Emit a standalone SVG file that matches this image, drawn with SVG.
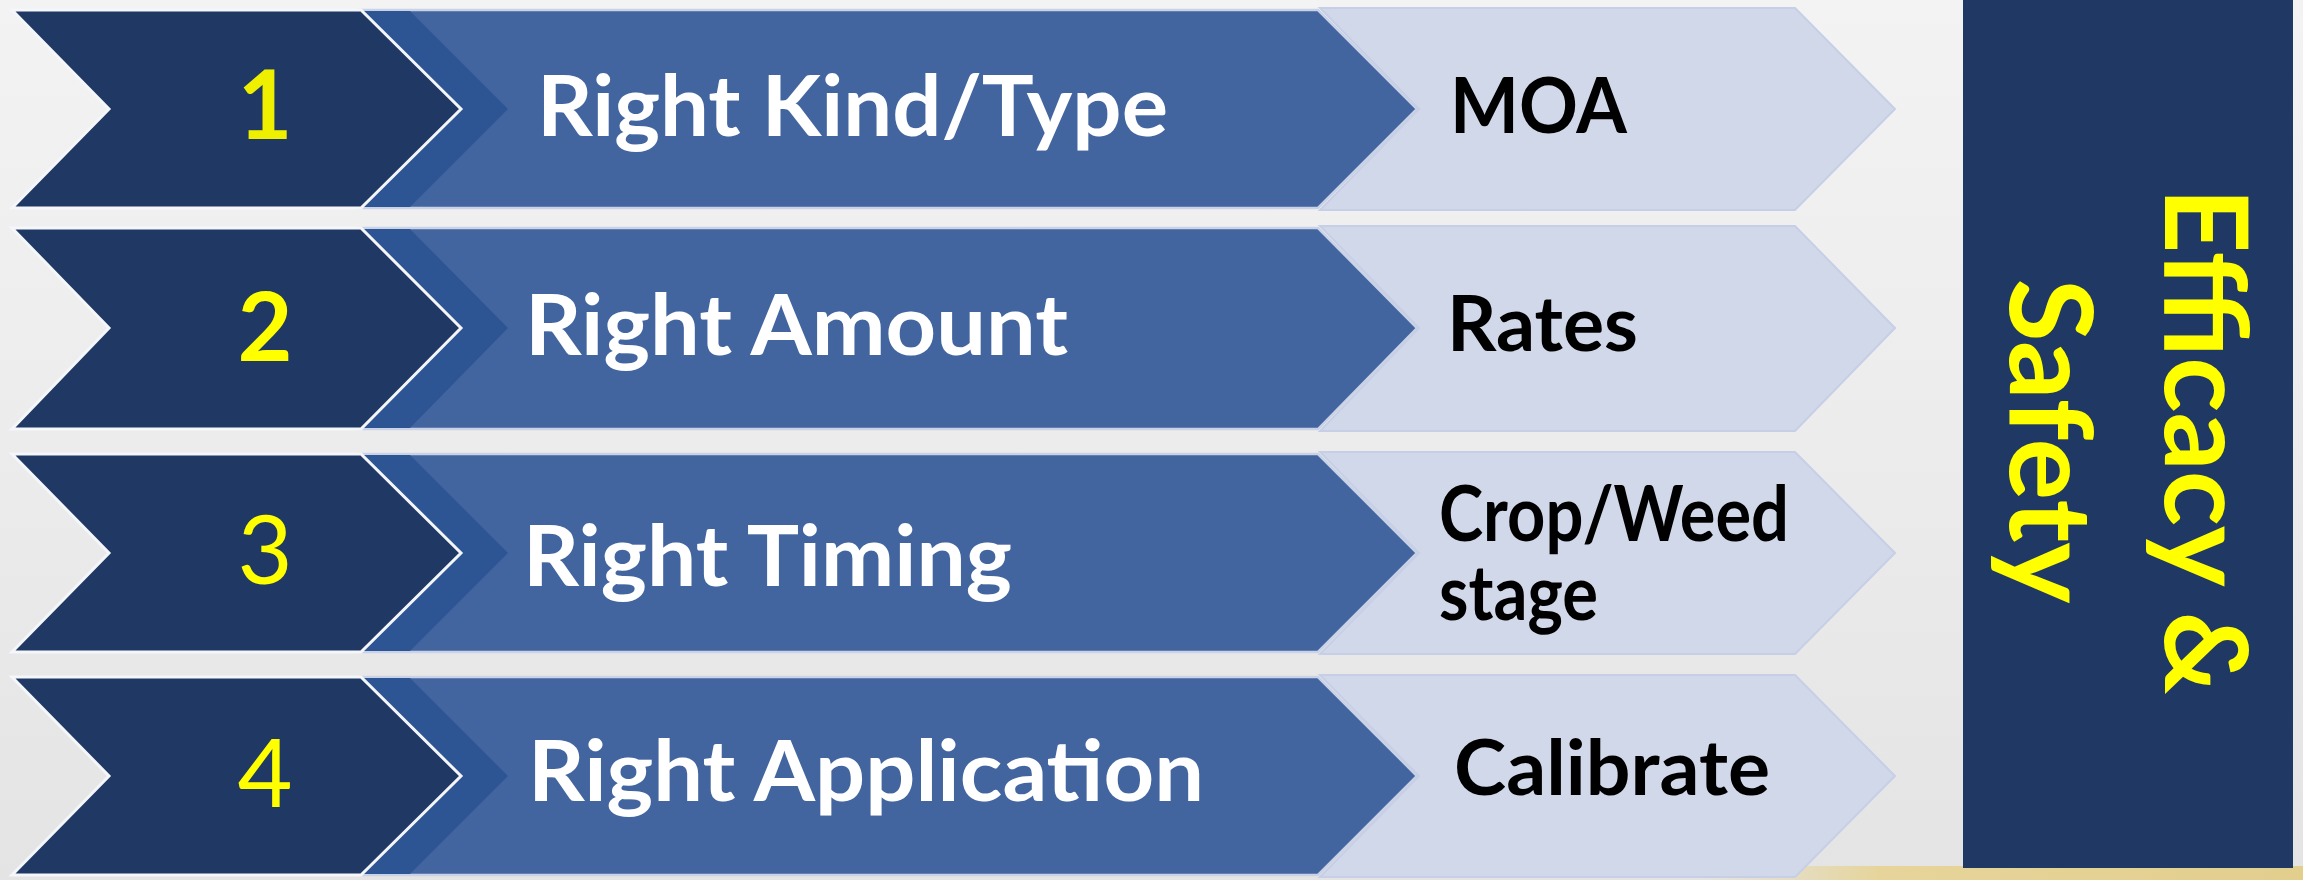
<svg xmlns="http://www.w3.org/2000/svg" width="2303" height="880" viewBox="0 0 2303 880">
<defs>
<linearGradient id="bg" x1="0" y1="0" x2="0" y2="1">
<stop offset="0" stop-color="#F3F3F3"/>
<stop offset="0.5" stop-color="#ECECEC"/>
<stop offset="1" stop-color="#E4E4E4"/>
</linearGradient>
<linearGradient id="tan" x1="0" y1="0" x2="1" y2="0">
<stop offset="0" stop-color="#E6D8A6" stop-opacity="0"/>
<stop offset="0.3" stop-color="#E6D49A"/>
<stop offset="1" stop-color="#E2CF8E"/>
</linearGradient>
<style>
.dark{fill:#203864;stroke:#F4F6FA;stroke-width:3;stroke-linejoin:miter}
.mid{fill:#4265A0;stroke:#C9D2E6;stroke-width:2.5}
.band{fill:#2E5593}
.light{fill:#D1D8EA;stroke:#C6CFE6;stroke-width:2}
.num{font-family:Lato,"Open Sans",sans-serif;font-size:95px;fill:#FFFF00;text-anchor:middle}
.lbl{font-family:Lato,"Open Sans",sans-serif;font-weight:bold;font-size:84px;fill:#FFFFFF}
.sub{font-family:Lato,"Open Sans",sans-serif;font-weight:bold;font-size:76px;fill:#000000}
.side{font-family:Lato,"Open Sans",sans-serif;font-weight:bold;font-size:114px;fill:#FFFF00;text-anchor:middle}
</style>
</defs>
<rect x="0" y="0" width="2303" height="880" fill="url(#bg)"/>
<rect x="1700" y="866" width="603" height="14" fill="url(#tan)"/>

<g id="row1">
<polygon class="mid" points="361,10 1318,10 1417,109 1318,208 361,208 461,109"/>
<polygon class="band" points="361,11 410,11 508,109 410,207 361,207 461,109"/>
<polygon class="light" points="1320,8 1795,8 1895,109 1795,210 1320,210 1419,109"/>
<polygon class="dark" points="12,10 361,10 461,109 361,208 12,208 109,109"/>
<text class="num" x="265" y="139" font-weight="bold" style="fill:#EEF000">1</text>
<text class="lbl" x="537" y="136" textLength="631" lengthAdjust="spacingAndGlyphs">Right Kind/Type</text>
<text class="sub" x="1450" y="133" textLength="177" lengthAdjust="spacingAndGlyphs">MOA</text>
</g>

<g id="row2">
<polygon class="mid" points="361,228 1318,228 1417,328 1318,429 361,429 461,328"/>
<polygon class="band" points="361,229 410,229 508,328 410,428 361,428 461,328"/>
<polygon class="light" points="1320,226 1795,226 1895,328 1795,431 1320,431 1419,328"/>
<polygon class="dark" points="12,228 361,228 461,328 361,429 12,429 109,328"/>
<text class="num" x="265" y="361" font-weight="bold">2</text>
<text class="lbl" x="525" y="355" textLength="543" lengthAdjust="spacingAndGlyphs">Right Amount</text>
<text class="sub" x="1447" y="351" textLength="191" lengthAdjust="spacingAndGlyphs">Rates</text>
</g>

<g id="row3">
<polygon class="mid" points="361,454 1318,454 1417,553 1318,652 361,652 461,553"/>
<polygon class="band" points="361,455 410,455 508,553 410,651 361,651 461,553"/>
<polygon class="light" points="1320,452 1795,452 1895,553 1795,654 1320,654 1419,553"/>
<polygon class="dark" points="12,454 361,454 461,553 361,652 12,652 109,553"/>
<text class="num" x="265" y="584">3</text>
<text class="lbl" x="523" y="586" textLength="489" lengthAdjust="spacingAndGlyphs">Right Timing</text>
<text class="sub"><tspan x="1439" y="541" textLength="350" lengthAdjust="spacingAndGlyphs">Crop/Weed</tspan><tspan x="1439" y="620" textLength="159" lengthAdjust="spacingAndGlyphs">stage</tspan></text>
</g>

<g id="row4">
<polygon class="mid" points="361,677 1318,677 1417,776 1318,875 361,875 461,776"/>
<polygon class="band" points="361,678 410,678 508,776 410,874 361,874 461,776"/>
<polygon class="light" points="1320,675 1795,675 1895,776 1795,877 1320,877 1419,776"/>
<polygon class="dark" points="12,677 361,677 461,776 361,875 12,875 109,776"/>
<text class="num" x="265" y="807">4</text>
<text class="lbl" x="528" y="801" textLength="676" lengthAdjust="spacingAndGlyphs">Right Application</text>
<text class="sub" x="1454" y="795" textLength="316" lengthAdjust="spacingAndGlyphs">Calibrate</text>
</g>

<g id="side-panel">
<rect x="1963" y="0" width="330" height="868" fill="#203864"/>
<text class="side" transform="translate(2165,441) rotate(90)" x="0" y="0" textLength="507" lengthAdjust="spacingAndGlyphs">Efficacy &amp;</text>
<text class="side" transform="translate(2010,441) rotate(90)" x="0" y="0" textLength="325" lengthAdjust="spacingAndGlyphs">Safety</text>
</g>
<g id="connectors"/>
</svg>
